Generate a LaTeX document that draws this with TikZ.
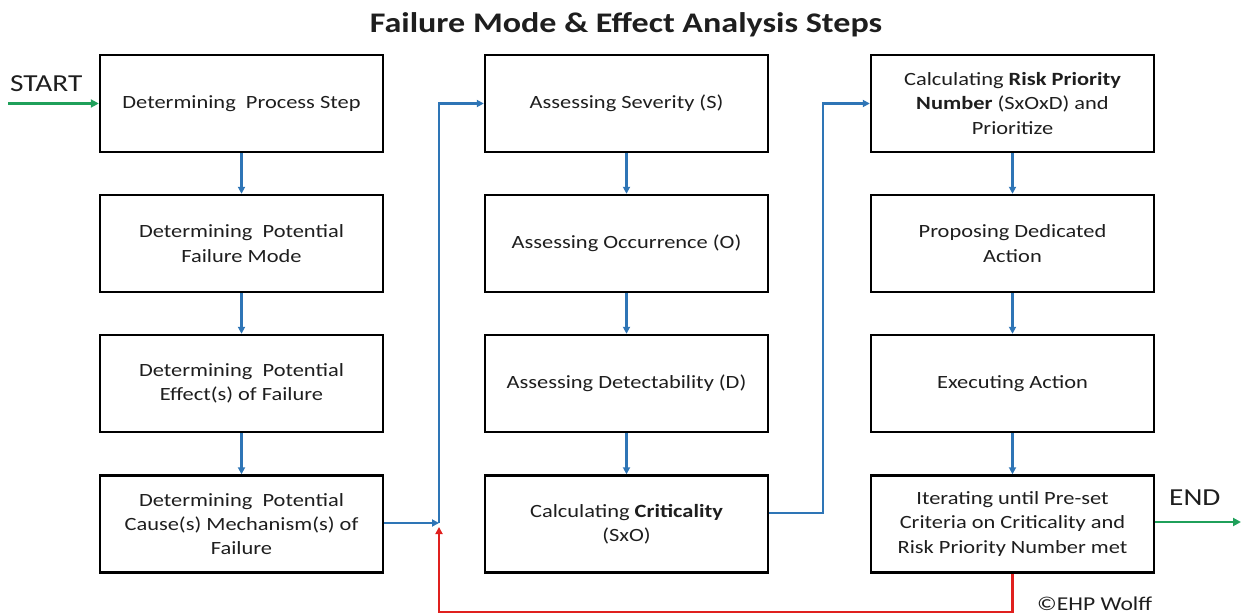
\documentclass[tikz,border=0pt]{standalone}
\usepackage{fontspec}
\setmainfont{Carlito}[FakeStretch=1.2]
\usetikzlibrary{arrows.meta}
\definecolor{fblue}{HTML}{2E75B6}
\definecolor{fgreen}{HTML}{1FA05A}
\definecolor{fred}{HTML}{E0201E}
\definecolor{ftext}{HTML}{1E1E1E}
\begin{document}
\begin{tikzpicture}[x=1bp,y=-1bp,
  stepbox/.style={draw=black,line width=2.4bp,minimum width=283bp,minimum height=97bp,inner sep=0pt,align=center,text=ftext,font=\fontsize{18.75}{24.5}\selectfont},
  barrow/.style={draw=fblue,line width=2.2bp,-{Triangle[length=7bp,width=7bp]}},
  garrow/.style={draw=fgreen,line width=2.6bp,-{Triangle[length=8bp,width=8bp]}},
  rarrow/.style={draw=fred,line width=2.2bp,-{Triangle[length=7bp,width=7bp]}},
  endlabel/.style={text=ftext,font=\fontsize{24.5}{28}\selectfont,inner sep=0pt}]
\useasboundingbox (0,0) rectangle (1242,616);
\node[font=\bfseries\fontsize{28.5}{32}\selectfont,text=ftext,inner sep=0pt,anchor=base] (title) at (626,33) {Failure Mode \& Effect Analysis Steps};
% column 1
\node[stepbox] (a1) at (241.5,103.5) {Determining\ \ Process Step};
\node[stepbox] (a2) at (241.5,243.5) {Determining\ \ Potential\\Failure Mode};
\node[stepbox] (a3) at (241.5,383.5) {Determining\ \ Potential\\Effect(s) of Failure};
\node[stepbox] (a4) at (241.5,524) {Determining\ \ Potential\\Cause(s) Mechanism(s) of\\Failure};
% column 2
\node[stepbox] (b1) at (626.5,103.5) {Assessing Severity (S)};
\node[stepbox] (b2) at (626.5,243.5) {Assessing Occurrence (O)};
\node[stepbox] (b3) at (626.5,383.5) {Assessing Detectability (D)};
\node[stepbox] (b4) at (626.5,524) {Calculating \textbf{Criticality}\\(SxO)};
% column 3
\node[stepbox] (c1) at (1012.5,103.5) {Calculating \textbf{Risk Priority}\\\textbf{Number} (SxOxD) and\\Prioritize};
\node[stepbox] (c2) at (1012.5,243.5) {Proposing Dedicated\\Action};
\node[stepbox] (c3) at (1012.5,383.5) {Executing Action};
\node[stepbox] (c4) at (1012.5,524) {Iterating until Pre-set\\Criteria on Criticality and\\Risk Priority Number met};
% labels
\node[endlabel,anchor=base west] (start) at (10,92) {START};
\node[endlabel,anchor=base west] (endl) at (1169,505) {END};
\node[text=ftext,font=\fontsize{19.7}{22}\selectfont,anchor=base west,inner sep=0pt] (copy) at (1037,610) {©EHP Wolff};
% coordinates
\coordinate (s) at (8,103.5);
\coordinate (e) at (1241,522);
\coordinate (j1) at (439,523);
\coordinate (j2) at (439,527);
\coordinate (k) at (823,513);
\coordinate (r) at (0,612);
% connectors
\draw[garrow] (s) -- (a1.west);
\draw[garrow] (c4.east |- e) -- (e);
\draw[barrow] (a1.south) -- (a2.north);
\draw[barrow] (a2.south) -- (a3.north);
\draw[barrow] (a3.south) -- (a4.north);
\draw[barrow] (b1.south) -- (b2.north);
\draw[barrow] (b2.south) -- (b3.north);
\draw[barrow] (b3.south) -- (b4.north);
\draw[barrow] (c1.south) -- (c2.north);
\draw[barrow] (c2.south) -- (c3.north);
\draw[barrow] (c3.south) -- (c4.north);
\draw[barrow] (a4.east |- j1) -- (j1);
\draw[barrow] (j1) |- (b1.west);
\draw[barrow] (b4.east |- k) -- (k) |- (c1.west);
\draw[rarrow] (c4.south) -- (c4.south |- r) -- (j1 |- r) -- (j2);
\end{tikzpicture}
\end{document}
